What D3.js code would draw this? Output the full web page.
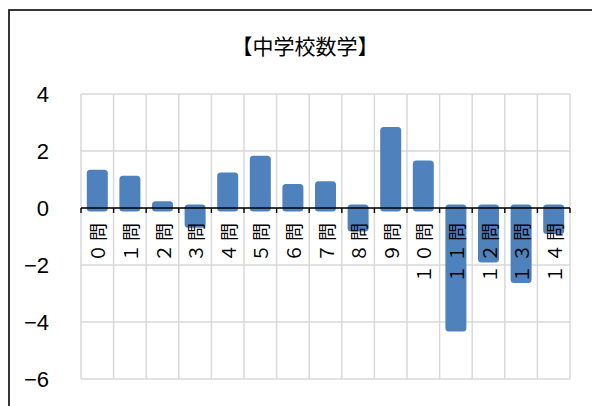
<!DOCTYPE html>
<html lang="ja">
<head>
<meta charset="utf-8">
<script src="https://cdn.jsdelivr.net/npm/d3@7"></script>
<style>
  html, body { margin: 0; padding: 0; background: #fff; }
  svg { display: block; }
</style>
</head>
<body>
<svg id="chart" width="592" height="406"></svg>
<script>
// 設問ごとの値（中学校数学）
const categories = ["０問", "１問", "２問", "３問", "４問", "５問", "６問", "７問",
                    "８問", "９問", "１０問", "１１問", "１２問", "１３問", "１４問"];
const values = [1.22, 1.01, 0.11, -0.57, 1.12, 1.71, 0.72, 0.82,
                -0.70, 2.72, 1.54, -4.21, -1.79, -2.51, -0.79];
const yTicks = [-6, -4, -2, 0, 2, 4];
const title = "【中学校数学】";

const svg = d3.select("#chart");
const W = 592, H = 406;
const plot = { left: 81, right: 570, top: 94, bottom: 379 };

// outer chart frame
svg.append("rect")
  .attr("x", 9).attr("y", 10)
  .attr("width", W + 20).attr("height", H + 20)
  .attr("fill", "#fff")
  .attr("stroke", "#222").attr("stroke-width", 1.8);

const x = d3.scaleBand()
  .domain(categories)
  .range([plot.left, plot.right])
  .paddingInner(0).paddingOuter(0);

const y = d3.scaleLinear()
  .domain([-6, 4])
  .range([plot.bottom, plot.top]);

// title
svg.append("text")
  .attr("x", 305).attr("y", 45)
  .attr("text-anchor", "middle")
  .attr("dominant-baseline", "central")
  .attr("font-family", "'Noto Sans CJK JP', sans-serif")
  .attr("font-weight", 400)
  .attr("font-size", 21)
  .attr("fill", "#000")
  .text(title);

// horizontal gridlines
svg.append("g")
  .selectAll("line")
  .data(yTicks)
  .join("line")
  .attr("x1", plot.left).attr("x2", plot.right)
  .attr("y1", d => y(d)).attr("y2", d => y(d))
  .attr("stroke", "#d9d9d9").attr("stroke-width", 1.5);

// vertical gridlines at category boundaries
const bounds = categories.map(c => x(c)).concat([plot.right]);
svg.append("g")
  .selectAll("line")
  .data(bounds)
  .join("line")
  .attr("x1", d => d).attr("x2", d => d)
  .attr("y1", plot.top).attr("y2", plot.bottom)
  .attr("stroke", "#d9d9d9").attr("stroke-width", 1.5);

// y-axis labels
const yAxis = d3.axisLeft(y).tickValues(yTicks).tickSize(0).tickPadding(0);
const gy = svg.append("g")
  .attr("transform", `translate(49,0)`)
  .call(yAxis);
gy.select(".domain").remove();
gy.selectAll("text")
  .attr("font-family", "'Liberation Sans Narrow', 'Arial Narrow', sans-serif")
  .attr("font-size", 22)
  .attr("fill", "#000")
  .attr("dy", "0.36em");

// bars (thick same-colour stroke gives the rounded corners)
const barW = 14;
svg.append("g")
  .selectAll("rect")
  .data(values)
  .join("rect")
  .attr("x", (d, i) => x(categories[i]) + x.bandwidth() / 2 - barW / 2)
  .attr("width", barW)
  .attr("y", d => y(Math.max(0, d)))
  .attr("height", d => Math.abs(y(d) - y(0)))
  .attr("fill", "#4f81bd")
  .attr("stroke", "#4f81bd")
  .attr("stroke-width", 7)
  .attr("stroke-linejoin", "round");

// zero axis with downward ticks
const gx = svg.append("g").attr("transform", `translate(0,${y(0)})`);
gx.append("line")
  .attr("x1", plot.left).attr("x2", plot.right)
  .attr("y1", 0).attr("y2", 0)
  .attr("stroke", "#000").attr("stroke-width", 1.4);
gx.selectAll("line.tick")
  .data(bounds)
  .join("line")
  .attr("class", "tick")
  .attr("x1", d => d).attr("x2", d => d)
  .attr("y1", 0).attr("y2", 5)
  .attr("stroke", "#000").attr("stroke-width", 1.4);

// category labels, rotated, drawn above the bars
svg.append("g")
  .selectAll("text")
  .data(categories)
  .join("text")
  .attr("transform", d => `translate(${x(d) + x.bandwidth() / 2},220) rotate(-90)`)
  .attr("text-anchor", "end")
  .attr("dominant-baseline", "central")
  .attr("font-family", "'Noto Sans CJK JP', sans-serif")
  .attr("font-size", 18)
  .attr("letter-spacing", 3)
  .attr("fill", "#000")
  .text(d => d);
</script>
</body>
</html>
